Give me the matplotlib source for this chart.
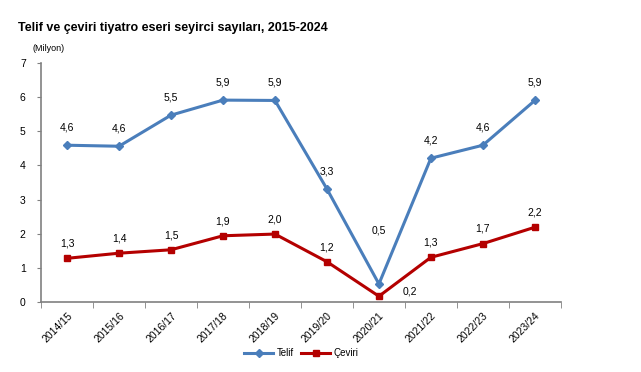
import matplotlib.pyplot as plt
import numpy as np

plt.rcParams['font.family'] = ['Liberation Sans', 'DejaVu Sans']

seasons = ["2014/15", "2015/16", "2016/17", "2017/18", "2018/19",
           "2019/20", "2020/21", "2021/22", "2022/23", "2023/24"]
telif = [4.59, 4.56, 5.47, 5.91, 5.90, 3.31, 0.53, 4.21, 4.59, 5.90]
ceviri = [1.28, 1.43, 1.53, 1.94, 1.99, 1.18, 0.17, 1.31, 1.71, 2.19]

blue = "#4A7EBB"
red = "#B40000"

fig = plt.figure(figsize=(6.41, 3.72), dpi=100)
ax = fig.add_axes([0.064, 0.188, 0.811, 0.643])

x = np.arange(len(seasons))
ax.plot(x, telif, color=blue, lw=2.2, marker="D", ms=4, label="Telif")
ax.plot(x, ceviri, color=red, lw=2.2, marker="s", ms=4, label="Çeviri")


def fmt(v):
    return f"{v:.1f}".replace(".", ",")


for i, v in enumerate(telif):
    dy = 9 if i != 6 else 35
    ax.annotate(fmt(v), (i, v), xytext=(0, dy), textcoords="offset points",
                ha="center", va="bottom", fontsize=7.5)
for i, v in enumerate(ceviri):
    if i == 6:
        ax.annotate(fmt(v), (i, v), xytext=(22, 0), textcoords="offset points",
                    ha="center", va="bottom", fontsize=7.5)
    else:
        ax.annotate(fmt(v), (i, v), xytext=(0, 7), textcoords="offset points",
                    ha="center", va="bottom", fontsize=7.5)

ax.set_xlim(-0.5, len(seasons) - 0.5)
ax.set_ylim(0, 7)
ax.set_yticks(range(0, 8))
ax.tick_params(axis="y", labelsize=7.5, length=3, color="#808080", pad=8)
ax.set_xticks(x)
ax.set_xticklabels(seasons, rotation=45, ha="right", rotation_mode="anchor", fontsize=7.5)
ax.set_xticks(np.arange(-0.5, len(seasons)), minor=True)
ax.tick_params(axis="x", which="major", length=0, pad=6)
ax.tick_params(axis="x", which="minor", length=4, color="#808080")
for s in ["top", "right"]:
    ax.spines[s].set_visible(False)
for s in ["left", "bottom"]:
    ax.spines[s].set_color("#808080")
    ax.spines[s].set_linewidth(1.2)

fig.text(0.028, 0.925, "Telif ve çeviri tiyatro eseri seyirci sayıları, 2015-2024",
         fontsize=9, fontweight="bold", va="center")
fig.text(0.05, 0.87, "(Milyon)", fontsize=6.5, va="center")

fig.legend(loc="center", bbox_to_anchor=(0.47, 0.05), ncol=2, frameon=False,
           fontsize=7, handlelength=3, columnspacing=0.8, handletextpad=0.3)

fig.savefig("out.png", dpi=100)
